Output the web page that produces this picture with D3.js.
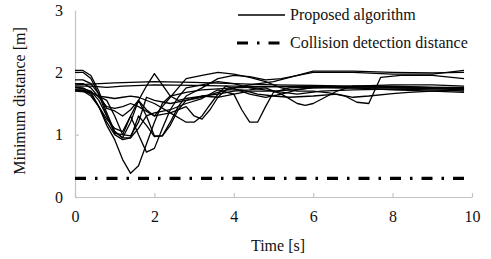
<!DOCTYPE html>
<meta charset="utf-8">
<style>
body { margin: 0; background: #fff; }
</style>
<body>
<svg id="chart" width="491" height="259"></svg>
<script src="https://cdn.jsdelivr.net/npm/d3@7"></script>
<script>
// minimum distance traces, [time s, distance m]
const run1 = [[0,1.76],[0.2,1.75],[0.4,1.68],[0.6,1.45],[0.8,1.15],[1.0,0.92],[1.2,0.6],[1.4,0.38],[1.6,0.5],[1.8,0.85],[2.0,1.2],[2.2,1.5],[2.4,1.62],[2.8,1.68],[3.2,1.72],[4,1.75],[5,1.77],[6,1.78],[7,1.77],[8,1.76],[9,1.75],[9.8,1.74]];
const run2 = [[0,2.03],[0.2,2.03],[0.4,1.95],[0.6,1.7],[0.8,1.35],[1.0,1.05],[1.2,0.95],[1.4,1.2],[1.6,1.55],[1.8,1.3],[2.0,0.98],[2.2,0.98],[2.4,1.2],[2.6,1.45],[2.8,1.62],[3.2,1.75],[3.6,1.9],[4.0,1.95],[4.4,1.93],[4.8,1.88],[5.2,1.9],[6,2.0],[7,2.0],[8,1.97],[9,1.97],[9.8,2.03]];
const run3 = [[0,2.0],[0.2,2.0],[0.4,1.9],[0.6,1.65],[0.8,1.3],[1.0,1.02],[1.2,1.0],[1.4,1.3],[1.6,1.0],[1.8,0.72],[2.0,0.78],[2.2,1.1],[2.4,1.4],[2.6,1.6],[2.8,1.75],[3.2,1.8],[3.6,1.85],[4,1.82],[4.4,1.75],[5,1.7],[5.5,1.72],[6,1.75],[7,1.78],[8,1.8],[9,1.8],[9.8,1.78]];
const run4 = [[0,1.88],[0.2,1.88],[0.4,1.82],[0.6,1.65],[0.8,1.42],[1.0,1.38],[1.2,1.3],[1.4,1.4],[1.6,1.55],[1.8,1.78],[2.0,1.98],[2.2,1.8],[2.4,1.62],[2.6,1.55],[2.8,1.58],[3.2,1.62],[3.6,1.6],[4.0,1.65],[4.4,1.7],[5,1.7],[5.6,1.65],[6.2,1.7],[7,1.72],[8,1.73],[9,1.72],[9.8,1.7]];
const run5 = [[0,1.8],[1,1.83],[2,1.85],[3,1.84],[4,1.82],[5,1.8],[6,1.79],[7,1.78],[8,1.77],[9,1.76],[9.8,1.76]];
const run6 = [[0,1.78],[0.4,1.78],[0.8,1.76],[1.2,1.78],[2,1.8],[3,1.79],[4,1.78],[5,1.77],[6,1.76],[7,1.75],[8,1.75],[9,1.74],[9.8,1.72]];
const run7 = [[0,1.72],[0.2,1.72],[0.4,1.68],[0.6,1.62],[0.8,1.6],[1.0,1.58],[1.2,1.6],[1.4,1.62],[1.6,1.6],[2.0,1.5],[2.4,1.35],[2.8,1.2],[3.0,1.2],[3.2,1.3],[3.4,1.48],[3.6,1.65],[3.8,1.78],[4,1.74],[4.4,1.65],[4.8,1.6],[5.2,1.65],[5.6,1.72],[6,1.76],[7,1.75],[8,1.72],[9,1.7],[9.8,1.68]];
const run8 = [[0,1.75],[0.2,1.74],[0.4,1.7],[0.6,1.55],[0.8,1.3],[1.0,1.05],[1.2,0.95],[1.4,0.95],[1.6,1.1],[1.8,1.3],[2.0,1.35],[2.4,1.4],[2.8,1.5],[3.2,1.58],[3.6,1.72],[4.0,1.65],[4.2,1.4],[4.4,1.2],[4.6,1.2],[4.8,1.45],[5.0,1.68],[5.4,1.75],[6,1.76],[7,1.75],[8,1.75],[9,1.74],[9.8,1.73]];
const run9 = [[0,1.72],[0.2,1.71],[0.4,1.65],[0.6,1.45],[0.8,1.2],[1.0,1.0],[1.2,0.92],[1.4,0.95],[1.6,1.3],[1.8,1.15],[2.0,0.97],[2.2,0.98],[2.4,1.15],[2.6,1.4],[2.8,1.55],[3.2,1.62],[3.6,1.65],[4,1.7],[4.4,1.72],[4.8,1.75],[5.2,1.65],[5.6,1.5],[5.8,1.47],[6.0,1.5],[6.3,1.6],[6.6,1.7],[7,1.78],[8,1.78],[9,1.76],[9.8,1.75]];
const run10 = [[0,1.82],[0.2,1.82],[0.4,1.75],[0.6,1.6],[0.8,1.45],[1.0,1.42],[1.2,1.45],[1.4,1.5],[1.6,1.45],[2.0,1.3],[2.4,1.35],[2.8,1.45],[3.0,1.3],[3.2,1.25],[3.4,1.4],[3.6,1.6],[3.8,1.72],[4.2,1.72],[4.6,1.65],[5,1.62],[5.4,1.6],[6,1.62],[6.6,1.65],[7.0,1.6],[7.4,1.62],[8,1.66],[8.4,1.68],[9,1.7],[9.8,1.72]];
const run11 = [[0,1.72],[0.2,1.7],[0.4,1.62],[0.6,1.45],[0.8,1.25],[1.0,1.1],[1.2,1.05],[1.4,1.3],[1.6,1.55],[1.8,1.4],[2.0,1.3],[2.2,1.45],[2.4,1.6],[2.6,1.75],[2.8,1.9],[3.2,1.95],[3.6,2.0],[4.0,1.97],[4.4,1.92],[4.8,1.85],[5.2,1.75],[5.6,1.7],[6.0,1.7],[6.4,1.67],[6.8,1.62],[7.1,1.52],[7.4,1.5],[7.7,1.92],[8.2,1.95],[9,1.95],[9.8,1.9]];
const run12 = [[0,1.7],[0.4,1.68],[0.8,1.55],[1.0,1.3],[1.2,1.0],[1.4,0.98],[1.6,1.2],[1.8,1.6],[2.0,1.55],[2.4,1.5],[2.8,1.55],[3.2,1.6],[3.6,1.68],[4.0,1.75],[4.4,1.8],[5.0,1.85],[5.6,1.95],[6.0,2.02],[7,2.02],[8,2.0],[9,1.99],[9.8,2.0]];
const runs = [run1, run2, run3, run4, run5, run6, run7, run8, run9, run10, run11, run12];

const collisionDist = 0.3;
const xTicks = [0, 2, 4, 6, 8, 10];
const yTicks = [0, 1, 2, 3];
const legendLabels = ["Proposed algorithm", "Collision detection distance"];

const serif = '"Liberation Serif", "Times New Roman", Times, "DejaVu Serif", serif';

const svg = d3.select("#chart");
const x = d3.scaleLinear().domain([0, 10]).range([75, 472]);
const y = d3.scaleLinear().domain([0, 3]).range([197, 10]);

// axes, light grey with inward ticks
const xAxis = svg.append("g").attr("transform", "translate(0," + y(0) + ")")
  .call(d3.axisBottom(x).tickValues(xTicks).tickFormat(d3.format("d"))
    .tickSizeInner(-4).tickSizeOuter(0).tickPadding(14));
const yAxis = svg.append("g").attr("transform", "translate(" + x(0) + ",0)")
  .call(d3.axisLeft(y).tickValues(yTicks).tickFormat(d3.format("d"))
    .tickSizeInner(-4).tickSizeOuter(0).tickPadding(12));
[xAxis, yAxis].forEach(function(a) {
  a.select(".domain").attr("stroke", "#c4c4c4").attr("stroke-width", 1.2);
  a.selectAll(".tick line").attr("stroke", "#c4c4c4").attr("stroke-width", 1.2);
});
yAxis.select(".tick:last-of-type line").remove();

const line = d3.line().x(d => x(d[0])).y(d => y(d[1]));

svg.append("g").selectAll("path")
  .data(runs)
  .enter().append("path")
  .attr("d", line)
  .attr("fill", "none")
  .attr("stroke", "#000")
  .attr("stroke-width", 1.3)
  .attr("stroke-linejoin", "round");

// collision detection distance
svg.append("line")
  .attr("x1", x(0)).attr("x2", x(10))
  .attr("y1", y(collisionDist)).attr("y2", y(collisionDist))
  .attr("stroke", "#000").attr("stroke-width", 3.2)
  .attr("stroke-dasharray", "11,9,2.5,9");

// legend
const leg = svg.append("g");
leg.append("line").attr("x1", 238).attr("x2", 285).attr("y1", 15).attr("y2", 15)
  .attr("stroke", "#000").attr("stroke-width", 1.3);
leg.append("line").attr("x1", 237).attr("x2", 281).attr("y1", 43).attr("y2", 43)
  .attr("stroke", "#000").attr("stroke-width", 3.2).attr("stroke-dasharray", "11,9,2.5,9");
leg.selectAll("text").data(legendLabels).enter().append("text")
  .attr("x", 290).attr("y", (d, i) => 20 + i * 28)
  .text(d => d);

// axis titles
svg.append("text").attr("x", 278).attr("y", 251).attr("text-anchor", "middle").text("Time [s]");
svg.append("text").attr("transform", "translate(25,101) rotate(-90)")
  .attr("text-anchor", "middle").text("Minimum distance [m]");

svg.selectAll("text")
  .style("font-family", serif)
  .style("font-size", "16px")
  .style("fill", "#111");
</script>
</body>
